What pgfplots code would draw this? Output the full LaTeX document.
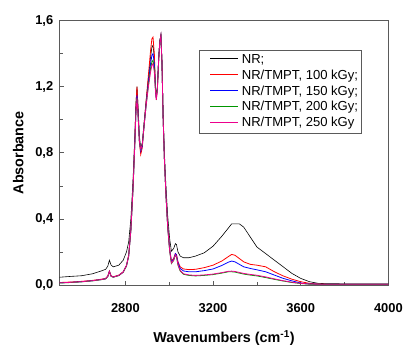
\documentclass[border=0pt]{standalone}
\usepackage{fontspec}
\setmainfont{Liberation Sans}
\usepackage{pgfplots}
\usepackage{pgfplotstable}
\pgfplotsset{compat=1.18}

\pgfplotstableread{
x nr r100 r150 r200 r250
2500 0.047 0.015 0.013 0.012 0.013
2550 0.052 0.018 0.016 0.015 0.016
2600 0.056 0.022 0.020 0.019 0.020
2650 0.068 0.028 0.026 0.025 0.026
2690 0.085 0.035 0.033 0.032 0.033
2710 0.095 0.040 0.038 0.037 0.038
2720 0.115 0.055 0.053 0.052 0.053
2727 0.150 0.085 0.082 0.080 0.082
2735 0.120 0.055 0.053 0.052 0.053
2745 0.110 0.050 0.048 0.047 0.048
2770 0.120 0.060 0.058 0.057 0.058
2790 0.150 0.080 0.078 0.077 0.078
2805 0.200 0.120 0.117 0.115 0.117
2815 0.260 0.180 0.176 0.174 0.176
2825 0.400 0.340 0.335 0.330 0.332
2835 0.640 0.600 0.590 0.585 0.588
2843 0.900 0.880 0.860 0.850 0.850
2848 1.100 1.080 1.050 1.040 1.040
2853 1.200 1.200 1.150 1.130 1.130
2858 1.080 1.050 1.030 1.020 1.020
2864 0.900 0.860 0.870 0.870 0.870
2870 0.830 0.790 0.810 0.820 0.820
2877 0.860 0.830 0.840 0.850 0.850
2885 0.980 0.960 0.960 0.960 0.960
2895 1.120 1.120 1.100 1.090 1.090
2905 1.250 1.270 1.230 1.210 1.200
2915 1.380 1.420 1.340 1.310 1.290
2921 1.440 1.490 1.390 1.350 1.330
2926 1.450 1.500 1.400 1.360 1.340
2932 1.380 1.400 1.340 1.310 1.290
2937 1.200 1.200 1.190 1.190 1.180
2941 1.140 1.120 1.130 1.140 1.120
2946 1.200 1.180 1.190 1.200 1.190
2952 1.380 1.360 1.370 1.370 1.370
2957 1.480 1.470 1.470 1.470 1.470
2962 1.510 1.510 1.510 1.510 1.510
2967 1.350 1.340 1.340 1.340 1.340
2972 1.050 1.020 1.020 1.020 1.020
2978 0.800 0.760 0.760 0.760 0.760
2985 0.600 0.550 0.550 0.545 0.548
2993 0.420 0.360 0.355 0.350 0.352
3002 0.280 0.220 0.215 0.205 0.208
3010 0.205 0.145 0.140 0.130 0.133
3020 0.220 0.160 0.155 0.148 0.150
3028 0.250 0.190 0.190 0.180 0.183
3033 0.245 0.185 0.182 0.172 0.175
3040 0.200 0.140 0.135 0.120 0.123
3050 0.175 0.110 0.100 0.085 0.088
3065 0.165 0.097 0.085 0.065 0.068
3090 0.165 0.093 0.080 0.058 0.061
3120 0.175 0.095 0.080 0.055 0.058
3160 0.195 0.105 0.087 0.058 0.061
3200 0.235 0.120 0.097 0.063 0.066
3240 0.295 0.145 0.118 0.072 0.075
3270 0.345 0.172 0.138 0.080 0.083
3285 0.370 0.185 0.145 0.080 0.084
3300 0.370 0.180 0.140 0.078 0.082
3320 0.370 0.160 0.125 0.072 0.076
3340 0.350 0.140 0.110 0.066 0.070
3370 0.290 0.125 0.100 0.060 0.064
3400 0.230 0.120 0.092 0.055 0.059
3440 0.190 0.110 0.080 0.045 0.049
3480 0.150 0.080 0.060 0.034 0.037
3520 0.110 0.055 0.040 0.024 0.026
3560 0.070 0.035 0.025 0.015 0.017
3600 0.040 0.020 0.012 0.009 0.010
3640 0.020 0.010 0.006 0.005 0.006
3680 0.010 0.006 0.005 0.004 0.005
3720 0.008 0.005 0.004 0.004 0.004
3800 0.007 0.005 0.004 0.004 0.004
3900 0.007 0.005 0.004 0.004 0.004
4000 0.007 0.005 0.004 0.004 0.004
}\spectra

\definecolor{framegray}{RGB}{90,90,90}
\definecolor{dgreen}{RGB}{0,150,0}
\newcommand{\legline}[2]{\textcolor{#1}{\rule[0.33em]{28bp}{#2}}}

\begin{document}
\begin{tikzpicture}
\begin{axis}[
  scale only axis,
  width=330.7bp, height=266bp,
  xmin=2500, xmax=4000,
  ymin=0, ymax=1.6,
  xtick={2800,3200,3600,4000},
  ytick={0,0.4,0.8,1.2,1.6},
  minor x tick num=1,
  minor y tick num=1,
  xtick pos=bottom, ytick pos=left,
  tick align=inside,
  major tick length=4bp, minor tick length=3bp,
  axis line style={framegray, line width=0.8pt},
  every tick/.style={framegray, line width=0.6pt},
  tick label style={font=\fontsize{13}{15}\selectfont\bfseries},
  /pgf/number format/assume math mode=true,
  xticklabel style={yshift=-15bp, /pgf/number format/1000 sep={}},
  yticklabel style={xshift=-3bp, /pgf/number format/.cd, fixed, fixed zerofill, precision=1, use comma},
  xlabel={Wavenumbers (cm\textsuperscript{-1})},
  ylabel={Absorbance},
  label style={font=\fontsize{14.5}{16}\selectfont\bfseries},
  xlabel style={yshift=-11bp},
  ylabel style={yshift=5bp},
]
\addplot[color=black, line width=0.6pt] table[x=x, y=nr] {\spectra};
\addplot[color=red, line width=0.8pt] table[x=x, y=r100] {\spectra};
\addplot[color=blue, line width=0.8pt] table[x=x, y=r150] {\spectra};
\addplot[color=dgreen, line width=0.8pt] table[x=x, y=r200] {\spectra};
\addplot[color=magenta, line width=0.8pt] table[x=x, y=r250] {\spectra};
\node[draw=framegray, line width=0.8pt, fill=white, anchor=north west,
      inner xsep=3bp, inner ysep=1.5bp, font=\fontsize{13.2}{16}\selectfont]
  at (rel axis cs:0.423,0.887) {%
  \renewcommand{\arraystretch}{1.0}%
  \begin{tabular}{@{\hspace{8bp}}l@{\hspace{4bp}}l@{}}
  \legline{black}{0.7pt} & NR;\\
  \legline{red}{1pt} & NR/TMPT, 100 kGy;\\
  \legline{blue}{1pt} & NR/TMPT, 150 kGy;\\
  \legline{dgreen}{1pt} & NR/TMPT, 200 kGy;\\
  \legline{magenta}{1pt} & NR/TMPT, 250 kGy
  \end{tabular}};
\end{axis}
\path (current axis.south west) ++(-60bp,-54.3bp) rectangle ++(406bp,341bp);
\end{tikzpicture}
\end{document}
